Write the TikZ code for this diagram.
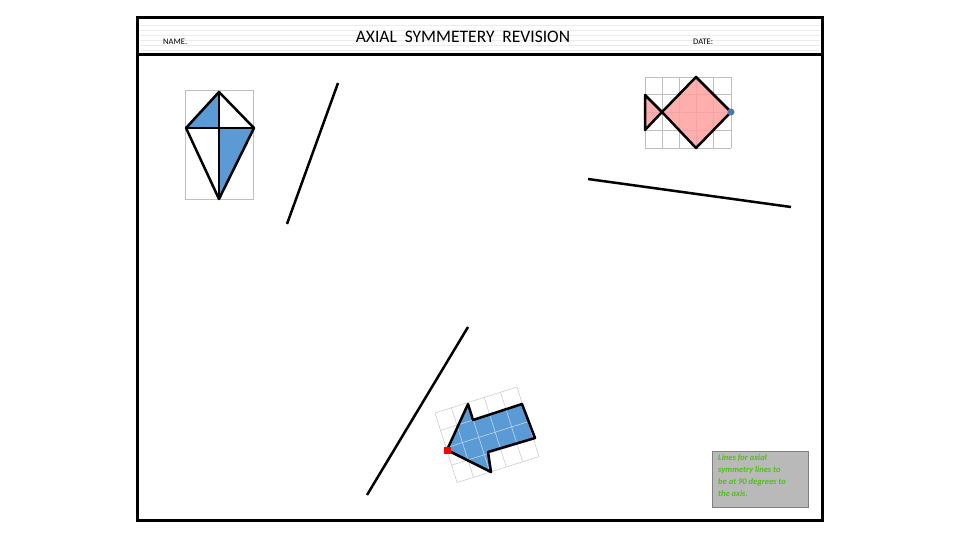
\documentclass[tikz,border=0pt]{standalone}
\usepackage{fontspec}
\setmainfont{Carlito}
\begin{document}
\begin{tikzpicture}[x=1pt,y=-1pt,
  shape line/.style={line width=2.5pt,line join=round},
  axis/.style={line width=2.5pt},
  grid line/.style={draw=gray!50,line width=0.8pt}]
\useasboundingbox (0,0) rectangle (960,540);
\definecolor{kb}{RGB}{91,155,213}
\definecolor{fp}{RGB}{255,160,160}
\definecolor{ng}{RGB}{80,190,30}
% header
\foreach \y in {25,30,35,40,45,50} \draw[gray!15,line width=0.5pt] (140,\y) -- (820,\y);
\node[font=\fontsize{8.5}{9}\selectfont,anchor=west,inner sep=0] (nm) at (163,42) {NAME.};
\node[font=\fontsize{17.5}{19}\selectfont,inner sep=0] (ttl) at (463,37) {AXIAL\ \ SYMMETERY\ \ REVISION};
\node[font=\fontsize{8.5}{9}\selectfont,anchor=west,inner sep=0] (dt) at (693,42) {DATE:};
\draw[line width=3pt] (137,18) rectangle (822,520);
\draw[line width=3pt] (137,55) -- (822,55);
% kite
\draw[gray!50,line width=1pt] (185,91) rectangle (253,199);
\coordinate (kt) at (219,92); \coordinate (kl) at (186,128);
\coordinate (kr) at (254,128); \coordinate (kb0) at (219,199);
\coordinate (kc) at (219,128);
\fill[kb] (kl) -- (kt) -- (kc) -- cycle;
\fill[kb] (kc) -- (kr) -- (kb0) -- cycle;
\draw[shape line] (kt) -- (kr) -- (kb0) -- (kl) -- cycle;
\draw[shape line] (kt) -- (kb0) (kl) -- (kr);
% fish
\foreach \i in {0,...,5} \draw[grid line] (645+17.2*\i,77) -- (645+17.2*\i,148);
\foreach \j in {0,...,4} \draw[grid line] (645,77+17.75*\j) -- (731,77+17.75*\j);
\coordinate (f1) at (645,95); \coordinate (f2) at (645,130); \coordinate (f3) at (662,112);
\coordinate (f4) at (696,77); \coordinate (f5) at (731,112); \coordinate (f6) at (696,148);
\fill[fp,opacity=0.85] (f1) -- (f3) -- (f2) -- cycle;
\fill[fp,opacity=0.85] (f3) -- (f4) -- (f5) -- (f6) -- cycle;
\draw[shape line] (f1) -- (f3) -- (f2) -- cycle;
\draw[shape line] (f3) -- (f4) -- (f5) -- (f6) -- cycle;
\fill[kb!80!black] (f5) circle (3.5);
% arrow grid (rotated)
\begin{scope}[shift={(435,413)},rotate=17.6]
  \foreach \i in {0,...,5} \draw[gray!40,line width=0.6pt] (17.2*\i,0) -- (17.2*\i,73);
  \foreach \j in {0,...,4} \draw[gray!40,line width=0.6pt] (0,18.25*\j) -- (86,18.25*\j);
\end{scope}
\coordinate (a1) at (447,450); \coordinate (a2) at (468,404); \coordinate (a3) at (473,420);
\coordinate (a4) at (522,404); \coordinate (a5) at (535,438); \coordinate (a6) at (488,452);
\coordinate (a7) at (491,472);
\fill[kb] (a1) -- (a2) -- (a3) -- (a4) -- (a5) -- (a6) -- (a7) -- cycle;
\begin{scope}
  \clip (a1) -- (a2) -- (a3) -- (a4) -- (a5) -- (a6) -- (a7) -- cycle;
  \begin{scope}[shift={(435,413)},rotate=17.6]
    \foreach \i in {0,...,5} \draw[white!60!kb,line width=0.6pt] (17.2*\i,0) -- (17.2*\i,73);
    \foreach \j in {0,...,4} \draw[white!60!kb,line width=0.6pt] (0,18.25*\j) -- (86,18.25*\j);
  \end{scope}
\end{scope}
\draw[shape line] (a1) -- (a2) -- (a3) -- (a4) -- (a5) -- (a6) -- (a7) -- cycle;
\fill[red] (a1) ++(-3.5,-3.5) rectangle ++(7,7);
% axes
\coordinate (l1a) at (338,83); \coordinate (l1b) at (287,224);
\coordinate (l2a) at (588,179); \coordinate (l2b) at (791,207);
\coordinate (l3a) at (468,327); \coordinate (l3b) at (367,495);
\draw[axis] (l1a) -- (l1b);
\draw[axis] (l2a) -- (l2b);
\draw[axis] (l3a) -- (l3b);
% note
\node[draw=gray,fill=gray!55,minimum width=96pt,minimum height=56pt,anchor=north west,inner sep=0] (note) at (712,451) {};
\node[align=left,font=\bfseries\itshape\fontsize{8.5}{12}\selectfont,text=ng,anchor=north west,inner sep=0] (nt) at (718,454) {Lines for axial\\symmetry lines to\\be at 90 degrees to\\the axis.};
\end{tikzpicture}
\end{document}
